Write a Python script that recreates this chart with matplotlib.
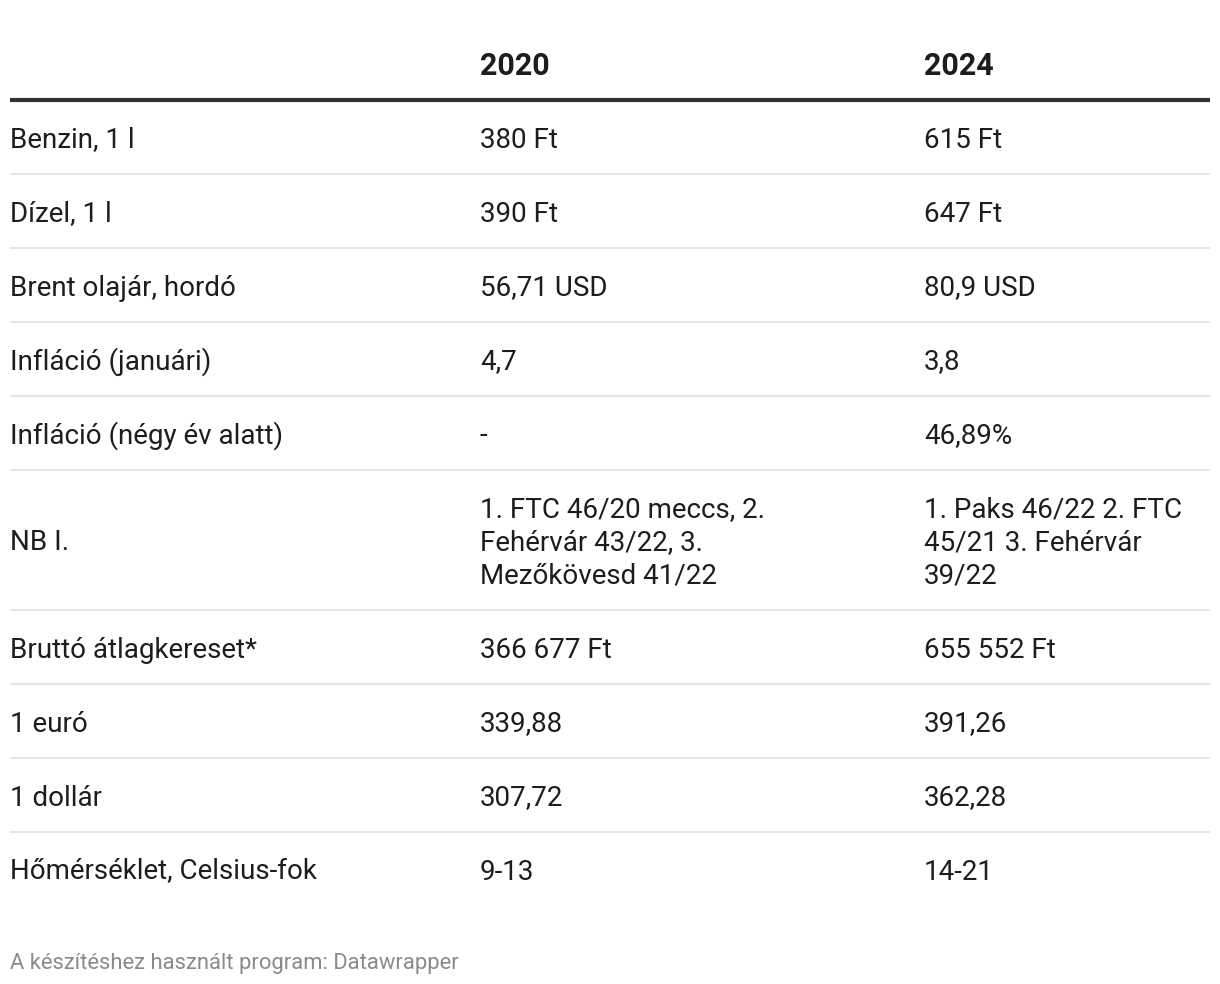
import textwrap
import matplotlib
matplotlib.use('Agg')
import matplotlib.pyplot as plt

plt.rcParams['font.family'] = ['Roboto', 'DejaVu Sans']

columns = ['', '2020', '2024']
labels = ['Benzin, 1 l', 'Dízel, 1 l', 'Brent olajár, hordó', 'Infláció (januári)',
          'Infláció (négy év alatt)', 'NB I.', 'Bruttó átlagkereset*', '1 euró',
          '1 dollár', 'Hőmérséklet, Celsius-fok']
values_2020 = ['380 Ft', '390 Ft', '56,71 USD', '4,7', '-',
               '1. FTC 46/20 meccs, 2. Fehérvár 43/22, 3. Mezőkövesd 41/22',
               '366 677 Ft', '339,88', '307,72', '9-13']
values_2024 = ['615 Ft', '647 Ft', '80,9 USD', '3,8', '46,89%',
               '1. Paks 46/22 2. FTC 45/21 3. Fehérvár 39/22',
               '655 552 Ft', '391,26', '362,28', '14-21']
footer = 'A készítéshez használt program: Datawrapper'

W, H = 1220, 984
fig = plt.figure(figsize=(W / 100, H / 100), dpi=100)
ax = fig.add_axes([0, 0, 1, 1])
ax.set_xlim(0, W); ax.set_ylim(H, 0); ax.axis('off')

TXT = '#1d1d1d'
col_x = [10, 480, 924]
FS = 20
LINE = 33      # px between wrapped lines
ROW = 74       # px height of single-line row
DY = 3         # small nudge so text sits like the reference

# header
for x, c in zip(col_x, columns):
    ax.text(x, 63 + DY, c, fontsize=22, fontweight='bold', color=TXT, va='center', ha='left')
ax.plot([10, 1210], [100, 100], color='#333333', lw=3, solid_capstyle='butt')

y = 100
rows = list(zip(labels, values_2020, values_2024))
for i, row in enumerate(rows):
    # only the value columns wrap
    cells = [[row[0]]] + [textwrap.wrap(s, 22) for s in row[1:]]
    n = max(len(c) for c in cells)
    h = ROW + (n - 1) * LINE
    yc = y + h / 2 + DY
    for x, lines in zip(col_x, cells):
        for k, line in enumerate(lines):
            ax.text(x, yc + (k - (len(lines) - 1) / 2) * LINE, line, fontsize=FS,
                    color=TXT, va='center', ha='left')
    y += h
    if i < len(rows) - 1:
        ax.plot([10, 1210], [y, y], color='#e6e6e6', lw=1.5, solid_capstyle='butt')

ax.text(10, 960 + DY, footer, fontsize=15.8, color='#8a8a8a', va='center', ha='left')

fig.savefig('out.png', dpi=100, facecolor='white')
